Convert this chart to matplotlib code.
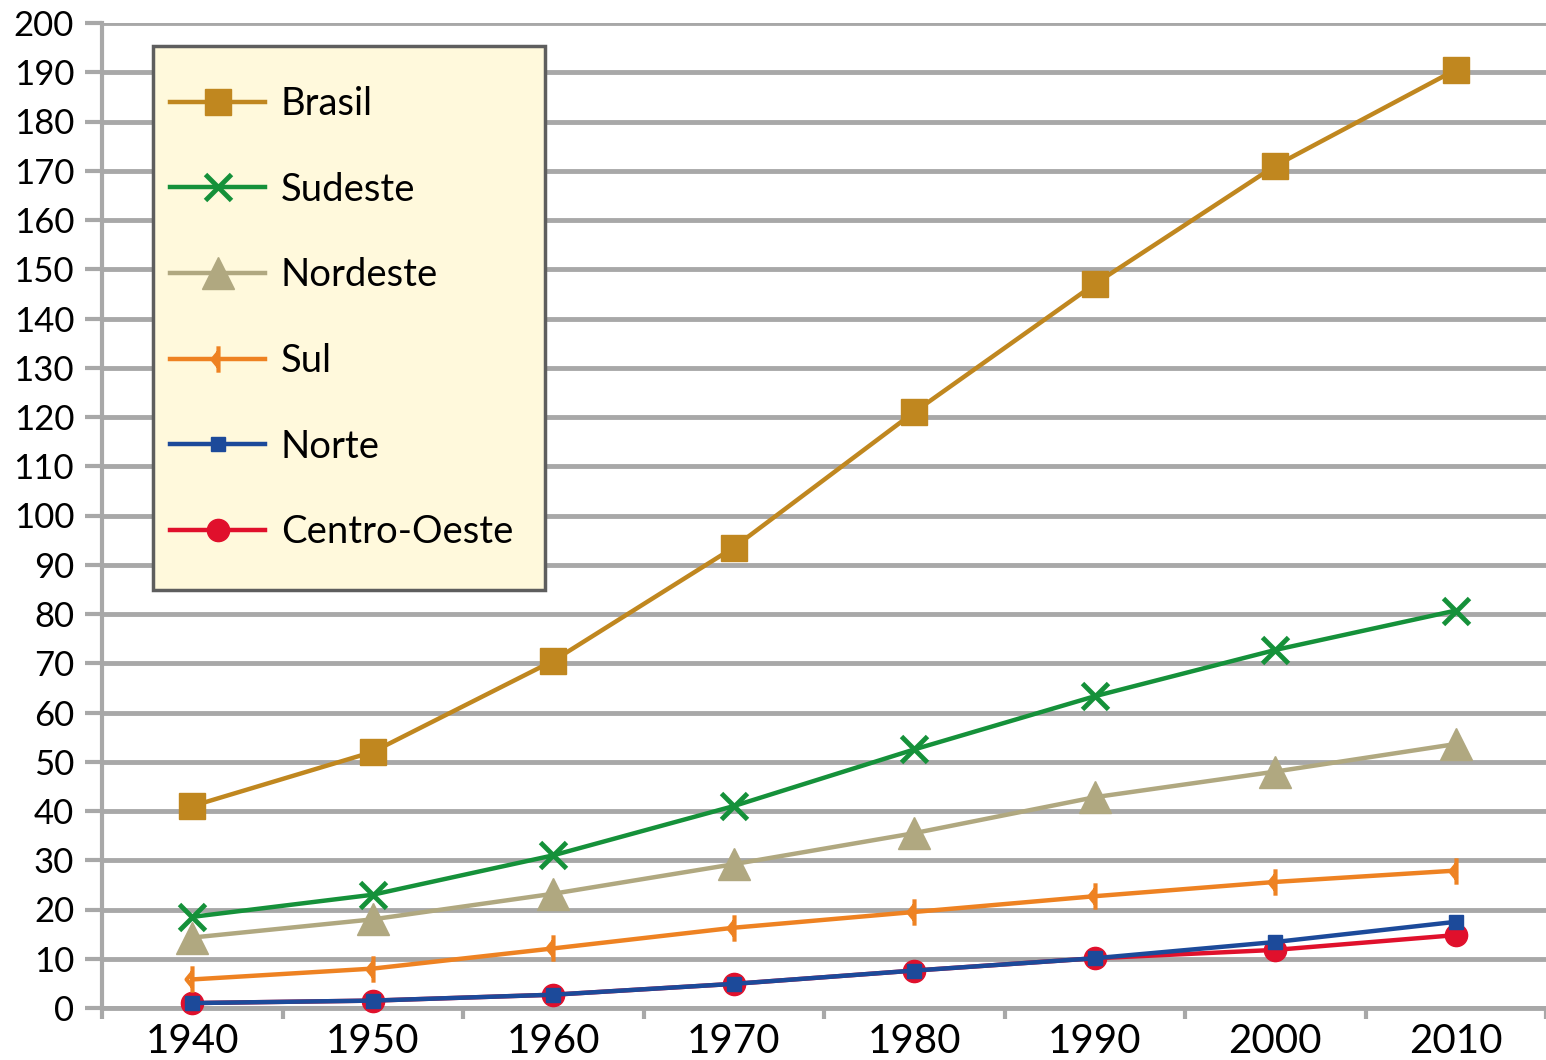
import matplotlib.pyplot as plt
from matplotlib.path import Path
from matplotlib.patches import Rectangle

plt.rcParams['font.family'] = ['Lato', 'DejaVu Sans']

# Population by region (millions)
years = ['1940', '1950', '1960', '1970', '1980', '1990', '2000', '2010']
brasil = [41, 52, 70.5, 93.5, 121, 147, 171, 190.5]
sudeste = [18.5, 23, 31, 41, 52.5, 63.3, 72.7, 80.7]
nordeste = [14.3, 18, 23.2, 29.2, 35.5, 42.8, 48, 53.6]
sul = [5.8, 8, 12.1, 16.3, 19.5, 22.7, 25.6, 27.9]
norte = [1.0, 1.5, 2.7, 4.9, 7.6, 10.1, 13.4, 17.5]
centro_oeste = [1.0, 1.5, 2.7, 4.9, 7.6, 10.1, 11.8, 14.8]
yticks = list(range(0, 201, 10))

# custom marker for Sul: vertical bar with a small left chevron
sul_marker = Path([(0, -1), (0, 1), (0.0, 0.55), (-0.45, 0.0), (0.0, -0.55)],
                  [Path.MOVETO, Path.LINETO, Path.MOVETO, Path.LINETO, Path.LINETO])

series = [
    ('Brasil', brasil, '#C0871F', dict(marker='s', markersize=19)),
    ('Sudeste', sudeste, '#15913A', dict(marker='x', markersize=19, markeredgewidth=3.5)),
    ('Nordeste', nordeste, '#B0A880', dict(marker='^', markersize=23)),
    ('Sul', sul, '#EE8222', dict(marker=sul_marker, markersize=19, markeredgewidth=3, markerfacecolor='none')),
    ('Norte', norte, '#1C4A9A', dict(marker='s', markersize=10)),
    ('Centro-Oeste', centro_oeste, '#E0102C', dict(marker='o', markersize=16)),
]

fig = plt.figure(figsize=(15.46, 10.6), dpi=100)
ax = fig.add_axes([102 / 1546, 1 - 1008 / 1060, 1 - 102 / 1546, (1008 - 23) / 1060])

x = list(range(len(years)))
handles = []
for i, (name, vals, color, mk) in enumerate(series):
    h, = ax.plot(x, vals, color=color, linewidth=3.2, label=name,
                 markeredgecolor=color, zorder=10 - i, clip_on=False, **mk)
    handles.append(h)

ax.set_ylim(0, 200)
ax.set_xlim(-0.5, 7.46)
ax.set_yticks(yticks)
ax.set_yticklabels([str(t) for t in yticks], fontsize=25)
ax.set_xticks(x)
ax.set_xticklabels(years, fontsize=29)
ax.set_xticks([i + 0.5 for i in range(-1, 8)], minor=True)

ax.tick_params(axis='y', length=12, width=3, color='#a8a8a8', pad=8)
ax.tick_params(axis='x', which='major', length=0, pad=11)
ax.tick_params(axis='x', which='minor', length=8, width=3, color='#a8a8a8')

ax.grid(axis='y', color='#a8a8a8', linewidth=3.5)
ax.set_axisbelow(True)
for side in ['top', 'right']:
    ax.spines[side].set_visible(False)
ax.spines['left'].set_color('#a8a8a8')
ax.spines['left'].set_linewidth(3)
ax.spines['bottom'].set_color('#a8a8a8')
ax.spines['bottom'].set_linewidth(3.5)

# legend box
box = Rectangle((153 / 1546, 1 - 590 / 1060), (545 - 153) / 1546, (590 - 46) / 1060,
                transform=fig.transFigure, facecolor='#FFF9DC', edgecolor='#5e5e5e',
                linewidth=2.5, zorder=20, clip_on=False)
ax.add_patch(box)
leg = ax.legend(handles=handles, loc='upper left', bbox_to_anchor=(170 / 1546, 1 - 86 / 1060),
                bbox_transform=fig.transFigure, frameon=False, fontsize=27.5,
                handlelength=2.5, handletextpad=0.4, labelspacing=1.3, borderpad=0,
                borderaxespad=0)
leg.set_zorder(21)

fig.savefig('out.png', dpi=100)
